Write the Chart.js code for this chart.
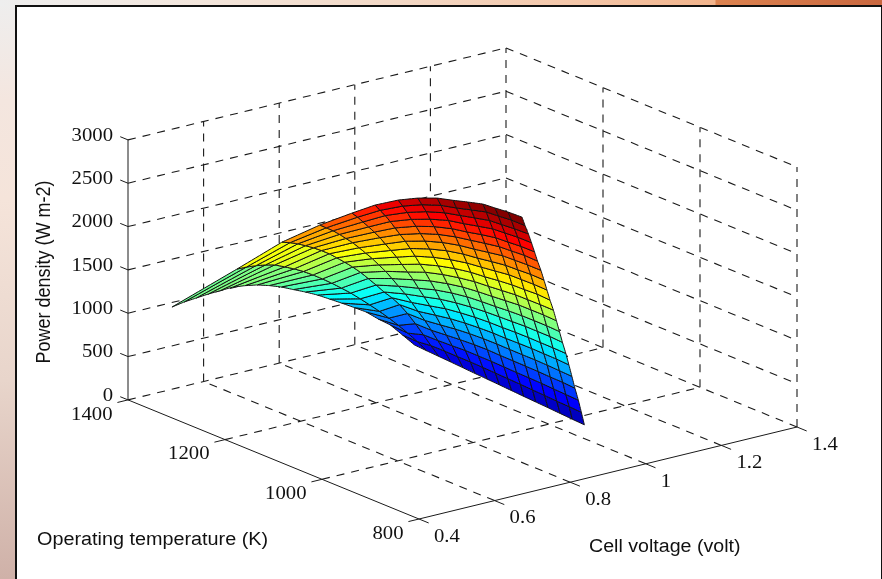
<!DOCTYPE html>
<html>
<head>
<meta charset="utf-8">
<script src="https://cdn.jsdelivr.net/npm/chart.js@4"></script>
<style>
html,body{margin:0;padding:0;width:882px;height:579px;overflow:hidden;background:#e8d8d0}
#left{position:absolute;left:0;top:0;width:16px;height:579px;background:linear-gradient(to bottom,#eeeeee 0,#f4e6df 100px,#f5e4da 200px,#e8d5cb 380px,#cfb1a8 579px)}
#top{position:absolute;left:0;top:0;width:882px;height:6px;background:linear-gradient(to right,#eeeeee 0,#f3e6dc 200px,#f3d8c5 400px,#f4c6a8 580px,#f2b48c 715px,#dc8350 716px,#c9673f 882px)}
#panel{position:absolute;left:15px;top:5px;width:867px;height:574px;background:#fff;border-left:2px solid #111;border-top:2px solid #111;border-right:1px solid #111;box-sizing:border-box}
canvas{position:absolute;left:0;top:0}
</style>
</head>
<body>
<div id="left"></div><div id="top"></div><div id="panel"></div>
<canvas id="c" width="882" height="579"></canvas>
<script>
const powerTicks=[0,500,1000,1500,2000,2500,3000];
const temperatureTicks=[800,1000,1200,1400];
const voltageTicks=[0.4,0.6,0.8,1,1.2,1.4];
const temperatures=[1300,1275,1250,1225,1200,1175,1150,1125,1100,1075,1050,1025,1000,975,950];
const voltageByTemp=[
[.388,.420,.452,.484,.516,.549,.581,.613,.645,.677,.709,.741,.773,.805,.837,.870,.902,.934,.966,.998,1.030],
[.528,.553,.578,.603,.628,.654,.679,.704,.729,.754,.779,.804,.829,.854,.879,.905,.930,.955,.980,1.005,1.030],
[.615,.636,.657,.677,.698,.719,.740,.760,.781,.802,.823,.843,.864,.885,.906,.926,.947,.968,.989,1.009,1.030],
[.683,.700,.718,.735,.752,.770,.787,.804,.822,.839,.857,.874,.891,.909,.926,.943,.961,.978,.995,1.013,1.030],
[.736,.751,.765,.780,.795,.810,.824,.839,.854,.868,.883,.898,.912,.927,.942,.957,.971,.986,1.001,1.015,1.030],
[.765,.778,.792,.805,.818,.831,.845,.858,.871,.884,.898,.911,.924,.937,.951,.964,.977,.990,1.004,1.017,1.030],
[.794,.806,.818,.829,.841,.853,.865,.877,.888,.900,.912,.924,.936,.947,.959,.971,.983,.995,1.006,1.018,1.030],
[.814,.825,.836,.846,.857,.868,.879,.890,.900,.911,.922,.933,.944,.954,.965,.976,.987,.998,1.008,1.019,1.030],
[.833,.843,.853,.863,.872,.882,.892,.902,.912,.922,.932,.941,.951,.961,.971,.981,.991,1.000,1.010,1.020,1.030],
[.843,.852,.862,.871,.880,.890,.899,.908,.918,.927,.937,.946,.955,.965,.974,.983,.993,1.002,1.011,1.021,1.030],
[.850,.859,.868,.877,.886,.895,.904,.913,.922,.931,.940,.949,.958,.967,.976,.985,.994,1.003,1.012,1.021,1.030],
[.858,.867,.875,.884,.892,.901,.910,.918,.927,.935,.944,.953,.961,.970,.978,.987,.996,1.004,1.013,1.021,1.030],
[.858,.867,.875,.884,.892,.901,.910,.918,.927,.935,.944,.953,.961,.970,.978,.987,.996,1.004,1.013,1.021,1.030],
[.860,.869,.877,.886,.894,.903,.911,.920,.928,.937,.945,.954,.962,.971,.979,.988,.996,1.005,1.013,1.022,1.030],
[.865,.873,.882,.890,.898,.906,.915,.923,.931,.939,.948,.956,.964,.972,.981,.989,.997,1.005,1.014,1.022,1.030]
];
const powerByTemp=[
[1313,1337,1349,1361,1367,1372,1355,1329,1288,1238,1174,1112,1043,963,882,796,710,595,492,343,193],
[1660,1657,1646,1628,1602,1552,1502,1445,1379,1307,1230,1148,1064,971,875,772,668,558,441,317,184],
[1936,1907,1872,1829,1782,1728,1669,1601,1528,1450,1366,1274,1177,1074,985,885,760,620,470,323,176],
[2118,2068,2015,1955,1890,1822,1746,1667,1583,1493,1399,1298,1192,1083,967,847,722,591,455,314,168],
[2257,2194,2124,2051,1975,1895,1807,1717,1624,1524,1422,1316,1203,1088,968,844,716,583,445,305,159],
[2376,2301,2226,2143,2056,1966,1874,1776,1674,1568,1460,1346,1229,1108,983,854,721,584,444,299,150],
[2460,2378,2292,2200,2108,2011,1912,1808,1700,1589,1476,1358,1237,1112,984,853,718,579,437,291,142],
[2519,2431,2339,2242,2144,2043,1938,1831,1718,1604,1486,1366,1242,1114,984,850,714,574,430,283,134],
[2556,2462,2365,2266,2162,2056,1948,1837,1723,1606,1487,1362,1236,1108,976,842,705,563,420,274,125],
[2577,2479,2382,2278,2172,2066,1954,1841,1726,1606,1485,1360,1233,1104,970,835,697,556,412,265,116],
[2607,2507,2405,2300,2193,2083,1969,1853,1735,1614,1491,1365,1236,1104,970,833,693,551,406,258,108],
[2632,2531,2425,2318,2207,2095,1981,1862,1743,1618,1494,1367,1235,1103,966,829,688,545,399,251,100],
[2644,2542,2435,2328,2215,2103,1987,1867,1746,1622,1496,1368,1236,1102,964,826,684,539,392,243,91],
[2653,2551,2442,2334,2221,2108,1990,1870,1747,1624,1495,1366,1233,1099,960,821,678,534,385,235,82],
[2646,2540,2434,2324,2211,2095,1979,1859,1735,1610,1485,1354,1221,1087,950,810,668,523,376,227,74]
];
const axisLabels={power:"Power density (W m-2)",temperature:"Operating temperature (K)",voltage:"Cell voltage (volt)"};

// fixed 3-D view of the MATLAB axes box, onto the library's x/y scales
function view(V,T,P){
  return {x:419+378*(V-0.4)-0.485*(T-800), y:519-92*(V-0.4)-0.1985*(T-800)-0.08667*P};
}
const Vmin=0.4,Vmax=1.4,Tmin=800,Tmax=1400,Pmax=3000;
function jet(t){
  const c=v=>Math.round(255*Math.max(0,Math.min(1,v)));
  return `rgb(${c(1.5-Math.abs(4*t-3))},${c(1.5-Math.abs(4*t-2))},${c(1.5-Math.abs(4*t-1))})`;
}
const datasets=[];
function seg(a,b,opts){
  datasets.push(Object.assign({type:'line',data:[view(...a),view(...b)],borderColor:'#1a1a1a',borderWidth:1,pointRadius:0,fill:false,tension:0,spanGaps:true},opts||{}));
}
const dash={borderDash:[8,7],borderColor:'#1a1a1a',borderWidth:1.1};
// dashed box grid (each line once)
voltageTicks.forEach(v=>{
  if(v!==Vmin){
    seg([v,Tmin,0],[v,Tmax,0],dash);
    seg([v,Tmax,0],[v,Tmax,Pmax],dash);
  }
});
temperatureTicks.forEach(t=>{
  if(t!==Tmin) seg([Vmin,t,0],[Vmax,t,0],dash);
  if(t!==Tmax) seg([Vmax,t,0],[Vmax,t,Pmax],dash);
});
powerTicks.forEach(p=>{
  if(p!==0){
    seg([Vmin,Tmax,p],[Vmax,Tmax,p],dash);
    seg([Vmax,Tmax,p],[Vmax,Tmin,p],dash);
  }
});
// solid axes and tick marks
seg([Vmin,Tmin,0],[Vmin,Tmax,0]);
seg([Vmin,Tmin,0],[Vmax,Tmin,0]);
seg([Vmin,Tmax,0],[Vmin,Tmax,Pmax]);
powerTicks.forEach(p=>seg([Vmin,Tmax,p],[Vmin,Tmax+16,p]));
temperatureTicks.forEach(t=>seg([Vmin,t,0],[Vmin-0.028,t,0]));
voltageTicks.forEach(v=>seg([v,Tmin,0],[v,Tmin-20,0]));
// surface cells, back to front; flat shading from each cell's first corner
const all=powerByTemp.flat();
const cMin=Math.min(...all),cMax=Math.max(...all);
for(let j=0;j<temperatures.length-1;j++){
  for(let i=voltageByTemp[j].length-2;i>=0;i--){
    const n=(a,b)=>view(voltageByTemp[a][b],temperatures[a],powerByTemp[a][b]);
    datasets.push({type:'line',data:[n(j,i),n(j+1,i),n(j+1,i+1),n(j,i+1),n(j,i)],
      backgroundColor:jet((powerByTemp[j][i]-cMin)/(cMax-cMin)),borderColor:'#111',borderWidth:1,
      fill:'shape',pointRadius:0,tension:0.0001,spanGaps:true});
  }
}
// Chart.js paints the last dataset first, so reverse to keep the grid behind the surface
datasets.reverse();
function stretched(ctx,text,x,y,font,align,stretch,rot){
  ctx.save();
  ctx.translate(x,y);
  if(rot){ctx.rotate(rot);ctx.scale(1,stretch);}else{ctx.scale(stretch,1);}
  ctx.font=font;ctx.textAlign=align;ctx.textBaseline='middle';ctx.fillStyle='#111';
  ctx.fillText(text,0,0);
  ctx.restore();
}
const labelPlugin={id:'axisText',afterDraw(chart){
  const ctx=chart.ctx,sx=chart.scales.x,sy=chart.scales.y;
  const px=(V,T,P)=>{const q=view(V,T,P);return [sx.getPixelForValue(q.x),sy.getPixelForValue(q.y)];};
  const serif='18px "Liberation Serif"',sans='18px "Liberation Sans"';
  powerTicks.forEach(p=>{const q=px(Vmin,Tmax,p);stretched(ctx,String(p),q[0]-15,q[1]-4,serif,'right',1.15);});
  temperatureTicks.forEach(t=>{const q=px(Vmin,t,0);stretched(ctx,String(t),q[0]-15.5,q[1]+15,serif,'right',1.15);});
  voltageTicks.forEach(v=>{const q=px(v,Tmin,0);stretched(ctx,String(v),q[0]+15,q[1]+18,serif,'left',1.15);});
  stretched(ctx,axisLabels.temperature,37,540,sans,'left',1.1);
  stretched(ctx,axisLabels.voltage,589,547,sans,'left',1.09);
  stretched(ctx,axisLabels.power,45,272,sans,'center',1.1,-Math.PI/2);
}};
new Chart(document.getElementById('c'),{
  data:{datasets},
  options:{responsive:false,animation:false,
    layout:{padding:0},
    scales:{
      x:{type:'linear',min:0,max:882,display:false},
      y:{type:'linear',min:0,max:579,reverse:true,display:false}
    },
    plugins:{legend:{display:false},tooltip:{enabled:false}},
    events:[]
  },
  plugins:[labelPlugin]
});
</script>
</body>
</html>
